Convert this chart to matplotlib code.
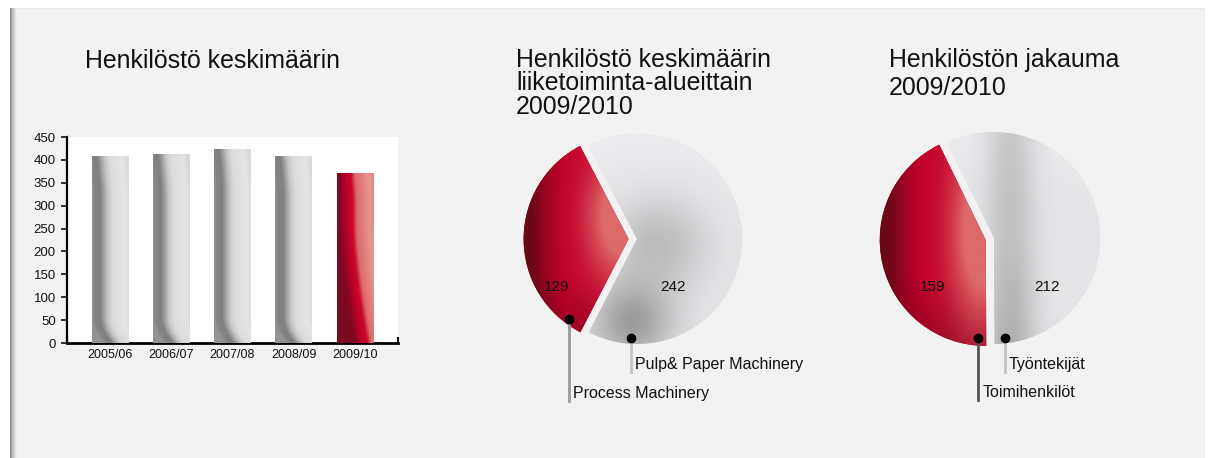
import numpy as np
import matplotlib
matplotlib.use("Agg")
import matplotlib.pyplot as plt
from matplotlib.patches import Rectangle
from matplotlib.colors import to_rgb

plt.rcParams['font.family'] = ['Liberation Sans', 'DejaVu Sans']

W, H = 1215, 458

# --- data ---
years = ['2005/06', '2006/07', '2007/08', '2008/09', '2009/10']
staff = [408, 413, 423, 408, 371]
bar_kind = ['grey', 'grey', 'grey', 'grey', 'red']
yticks = [0, 50, 100, 150, 200, 250, 300, 350, 400, 450]

area_labels = ['Process Machinery', 'Pulp& Paper Machinery']
area_values = [129, 242]

group_labels = ['Toimihenkilöt', 'Työntekijät']
group_values = [159, 212]

title1 = ['Henkilöstö keskimäärin']
title2 = ['Henkilöstö keskimäärin', 'liiketoiminta-alueittain', '2009/2010']
title3 = ['Henkilöstön jakauma', '2009/2010']

RED = '#c8002a'
GREY = '#d4d5d7'
PINK = np.array(to_rgb('#dc6a6a'))


def stops_interp(t, stops):
    pos = [s[0] for s in stops]
    cols = np.array([to_rgb(s[1]) for s in stops])
    return np.stack([np.interp(t, pos, cols[:, i]) for i in range(3)], axis=-1)


def px_axes(x0, y0, x1, y1):
    # pixel box measured from top-left of the figure
    return fig.add_axes([x0 / W, 1 - y1 / H, (x1 - x0) / W, (y1 - y0) / H])


fig = plt.figure(figsize=(W / 100, H / 100), dpi=100, facecolor='white')

# background panel
bg = fig.add_axes([0, 0, 1, 1], zorder=-10)
bg.add_patch(Rectangle((10, 8), 1195, 460, color='#f2f2f2', lw=0, zorder=1))
shade = stops_interp(np.linspace(0, 1, 20), [(0, '#858585'), (0.4, '#c0c0c0'), (1, '#f2f2f2')])[None, :, :]
bg.imshow(shade, extent=(10, 17, H, 8), aspect='auto', zorder=2)
topsh = stops_interp(np.linspace(0, 1, 10), [(0, '#e6e6e6'), (1, '#f2f2f2')])[:, None, :]
bg.imshow(np.repeat(topsh, 5, axis=1), extent=(17, 1205, 10, 8), aspect='auto', zorder=2)
bg.set_xlim(0, W)
bg.set_ylim(H, 0)
bg.axis('off')

# titles
for i, line in enumerate(title1):
    fig.text(85 / W, 1 - (68 + 24 * i) / H, line, fontsize=17.9, color='#111111', va='baseline')
for i, line in enumerate(title2):
    fig.text(516 / W, 1 - (67 + 23.5 * i) / H, line, fontsize=17.9, color='#111111', va='baseline')
for i, line in enumerate(title3):
    fig.text(889 / W, 1 - (67 + 28 * i) / H, line, fontsize=17.9, color='#111111', va='baseline')

# --- bar chart ---
ax = px_axes(67, 137, 398, 343)
ax.set_facecolor('white')
x = np.arange(len(years))
bw = 0.6
bars = ax.bar(x, staff, width=bw, color=GREY, zorder=2)

grey_stops = [(0, '#939496'), (0.08, '#838486'), (0.22, '#7e7f81'), (0.42, '#c4c5c7'),
              (0.55, '#dadbdd'), (0.9, '#e3e4e6'), (1, '#d8d9db')]
red_stops = [(0, '#7a0a20'), (0.12, '#8a0622'), (0.3, '#c2002b'), (0.42, '#c8082d'),
             (0.54, '#dc6a6c'), (0.9, '#e49891'), (1, '#e08a86')]
for b, kind in zip(bars, bar_kind):
    nx, ny = 120, 150
    u = np.linspace(0, 1, nx)[None, :]
    v = np.linspace(1, 0, ny)[:, None]
    if kind == 'red':
        shift = np.clip((0.7 - v) / 0.7, 0, 1) ** 1.5 * 0.4 - np.clip((v - 0.85) / 0.15, 0, 1) * 0.05
        st = red_stops
    else:
        shift = np.clip((0.14 - v) / 0.14, 0, 1) ** 2 * 0.3 - np.clip((v - 0.82) / 0.18, 0, 1) * 0.08
        st = grey_stops
    img = stops_interp(np.clip(u - shift, 0, 1), st)
    x0 = b.get_x()
    im = ax.imshow(img, extent=(x0, x0 + b.get_width(), 0, b.get_height()),
                   aspect='auto', zorder=3)
    im.set_clip_path(b)

ax.set_xlim(-0.7, 4.7)
ax.set_ylim(0, 450)
ax.set_yticks(yticks)
ax.set_xticks(x)
ax.set_xticklabels(years, fontsize=9)
ax.tick_params(axis='x', length=0, pad=4, colors='#111111')
ax.tick_params(axis='y', length=4, width=1.2, pad=4, labelsize=9.5, colors='#111111')
ax.set_xticks([-0.7, 4.7], minor=True)
ax.tick_params(axis='x', which='minor', direction='in', length=4, width=1.5, color='black')
for s in ['top', 'right']:
    ax.spines[s].set_visible(False)
ax.spines['left'].set_linewidth(1.6)
ax.spines['bottom'].set_linewidth(2)


# --- pies ---
def pie_panel(cx, cy, r, values, labels, start, red_img, grey_img, texts_pos,
              dots, label_pos, line_colors):
    S = 1.7
    pa = px_axes(cx - S * r, cy - S * r, cx + S * r, cy + S * r)
    pa.set_facecolor('none')
    wedges, _ = pa.pie(values, startangle=start, counterclock=True, explode=[0.08, 0],
                       colors=[RED, GREY], radius=1)
    n = 300
    g = np.linspace(-1.2, 1.2, n)
    X, Y = np.meshgrid(g, g)
    for w, fn in zip(wedges, [red_img, grey_img]):
        img = np.clip(fn(X, Y), 0, 1)
        im = pa.imshow(img, extent=(-1.2, 1.2, -1.2, 1.2), origin='lower', zorder=3)
        im.set_clip_path(w)
    for (tx, ty), val in zip(texts_pos, values):
        pa.text(tx, ty, str(val), fontsize=11, color='#111111', ha='center', va='center', zorder=5)
    for (dx, dy), (lx, ly), lab, lc in zip(dots, label_pos, labels, line_colors):
        pa.plot([dx, dx], [dy, ly - 0.07], color=lc, lw=2, zorder=4, clip_on=False)
        pa.plot(dx, dy, 'o', color='black', ms=6, zorder=6, clip_on=False)
        pa.text(dx + 0.04, ly, lab, fontsize=11.5, color='#111111', ha='left', va='center',
                zorder=5)
    pa.set_xlim(-S, S)
    pa.set_ylim(-S, S)
    pa.set_aspect('equal')
    pa.axis('off')
    return pa


def red_base(X, Y, k):
    t = (X + 1.0) / 0.7
    img = stops_interp(np.clip(t, 0, 1), [(0, '#6a0818'), (0.18, '#980422'), (0.45, '#c2002b'),
                                         (1, '#c8062e')])
    dark = 1 - k * np.clip(-Y - 0.35, 0, 1)
    return img * dark[..., None]


def red_shade_a(X, Y):
    img = red_base(X, Y, 0.35)
    m = np.exp(-((X + 0.15) ** 2) / (2 * 0.22 ** 2) - ((Y - 0.2) ** 2) / (2 * 0.4 ** 2))
    m = np.clip(1.4 * m, 0, 1)[..., None]
    return img * (1 - m) + PINK * m


def red_shade_b(X, Y):
    img = red_base(X, Y, 0.3)
    m = np.exp(-((X + 0.12) ** 2) / (2 * 0.2 ** 2) - ((Y - 0.05) ** 2) / (2 * 0.6 ** 2))
    m = np.clip(1.4 * m, 0, 1)[..., None]
    return img * (1 - m) + PINK * m


def grey_shade_a(X, Y):
    v = (0.91 - 0.16 * np.exp(-((X - 0.2) ** 2 + (Y + 0.05) ** 2) / 0.22)
         - 0.28 * np.exp(-((X + 0.05) ** 2 + (Y + 0.8) ** 2) / 0.15)
         + 0.03 * np.clip(Y, 0, 1))
    return np.stack([v * 0.985, v * 0.99, v], axis=-1)


def grey_shade_b(X, Y):
    v = (0.91 - 0.22 * np.exp(-((X - 0.15) ** 2) / 0.06) * (0.65 + 0.35 * np.clip(-Y, 0, 1))
         + 0.04 * np.clip(Y - 0.3, 0, 1))
    return np.stack([v * 0.985, v * 0.99, v], axis=-1)


# process / pulp & paper
pie_panel(637, 239, 105, area_values, area_labels, 117.5, red_shade_a, grey_shade_a,
          texts_pos=[(-0.77, -0.46), (0.34, -0.46)],
          dots=[(-0.65, -0.76), (-0.06, -0.94)],
          label_pos=[(-0.63, -1.47), (0.0, -1.2)],
          line_colors=['#9a9a9a', '#c4c4c4'])

# toimihenkilot / tyontekijat
pie_panel(994, 238, 106, group_values, group_labels, 116, red_shade_b, grey_shade_b,
          texts_pos=[(-0.58, -0.46), (0.5, -0.46)],
          dots=[(-0.15, -0.94), (0.10, -0.94)],
          label_pos=[(-0.14, -1.46), (0.12, -1.19)],
          line_colors=['#555555', '#c4c4c4'])

fig.savefig('out.png', dpi=100, facecolor='white')
